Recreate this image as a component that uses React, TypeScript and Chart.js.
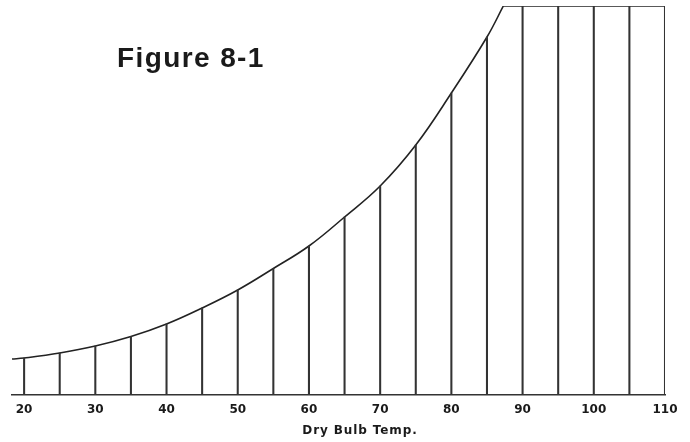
import React, { useEffect, useRef } from "react";
import { Chart, registerables } from "chart.js";

Chart.register(...registerables);

// Saturation curve (dry bulb temp in °F vs. relative height units)
const curveTemps = [18.3, 20, 25, 30, 35, 40, 45, 50, 55, 60, 65, 70, 75, 80, 85, 87.3];
const curveValues = [36, 37, 42, 49, 58.5, 71, 87, 105, 126.5, 149, 178, 209, 250, 302, 358, 389];

// Flat top after the curve peaks
const plateauTemps = [87.3, 110];
const plateauValues = [389, 389];

// Vertical lines every 5 degrees
const lineTemps = [20, 25, 30, 35, 40, 45, 50, 55, 60, 65, 70, 75, 80, 85, 90, 95, 100, 105, 110];
const lineHeights = [37, 42, 49, 58.5, 71, 87, 105, 126.5, 149, 178, 209, 250, 302, 358, 389, 389, 389, 389, 389];

// Axis tick labels
const tickValues = [20, 30, 40, 50, 60, 70, 80, 90, 100, 110];

const figureTitle = "Figure 8-1";
const axisTitle = "Dry Bulb Temp.";

const textPlugin = {
  id: "figureText",
  afterDraw(chart: any) {
    const ctx = chart.ctx;
    ctx.save();
    ctx.fillStyle = "#1a1a1a";
    ctx.font = "bold 28px 'Liberation Sans', Arial, sans-serif";
    ctx.textAlign = "left";
    ctx.textBaseline = "alphabetic";
    (ctx as any).letterSpacing = "1.4px";
    ctx.fillText(figureTitle, 117, 67);
    ctx.font = "bold 12px 'DejaVu Sans', sans-serif";
    (ctx as any).letterSpacing = "0.9px";
    ctx.textAlign = "center";
    ctx.fillText(axisTitle, 360, 434);
    ctx.restore();
  },
};

export default function App() {
  const ref = useRef<HTMLCanvasElement | null>(null);

  useEffect(() => {
    if (!ref.current) return;
    const chart = new Chart(ref.current, {
      type: "bar",
      data: {
        datasets: [
          {
            type: "bar",
            data: lineTemps.map((t, i) => ({ x: t, y: lineHeights[i] })),
            backgroundColor: "#333333",
            barThickness: 1.4,
            borderWidth: 0,
          } as any,
          {
            type: "line",
            data: curveTemps.map((t, i) => ({ x: t, y: curveValues[i] })),
            borderColor: "#222222",
            borderWidth: 1.6,
            pointRadius: 0,
            tension: 0.4,
            fill: false,
          } as any,
          {
            type: "line",
            data: plateauTemps.map((t, i) => ({ x: t, y: plateauValues[i] })),
            borderColor: "#222222",
            borderWidth: 1.6,
            pointRadius: 0,
            tension: 0,
            fill: false,
          } as any,
        ],
      },
      options: {
        responsive: false,
        animation: false,
        devicePixelRatio: 1,
        layout: { padding: { left: 12, right: 25, top: 6, bottom: 0 } },
        plugins: {
          legend: { display: false },
          tooltip: { enabled: false },
          title: { display: false },
        },
        scales: {
          x: {
            type: "linear",
            offset: false,
            min: 18.3,
            max: 110,
            grid: { display: false, drawTicks: false, offset: false },
            border: { display: true, color: "#333333", width: 1.5 },
            afterBuildTicks: (scale: any) => {
              scale.ticks = tickValues.map((v) => ({ value: v }));
            },
            afterFit: (scale: any) => {
              scale.height = 47;
            },
            ticks: {
              autoSkip: false,
              maxRotation: 0,
              padding: 8,
              color: "#1a1a1a",
              font: { family: "'DejaVu Sans', sans-serif", size: 12, weight: "bold" },
            },
          },
          y: {
            display: false,
            min: 0,
            max: 389,
          },
        },
      } as any,
      plugins: [textPlugin],
    });
    return () => chart.destroy();
  }, []);

  return (
    <div style={{ position: "fixed", left: 0, top: 0, width: 690, height: 442, background: "#fff" }}>
      <canvas ref={ref} width={690} height={442} />
    </div>
  );
}
